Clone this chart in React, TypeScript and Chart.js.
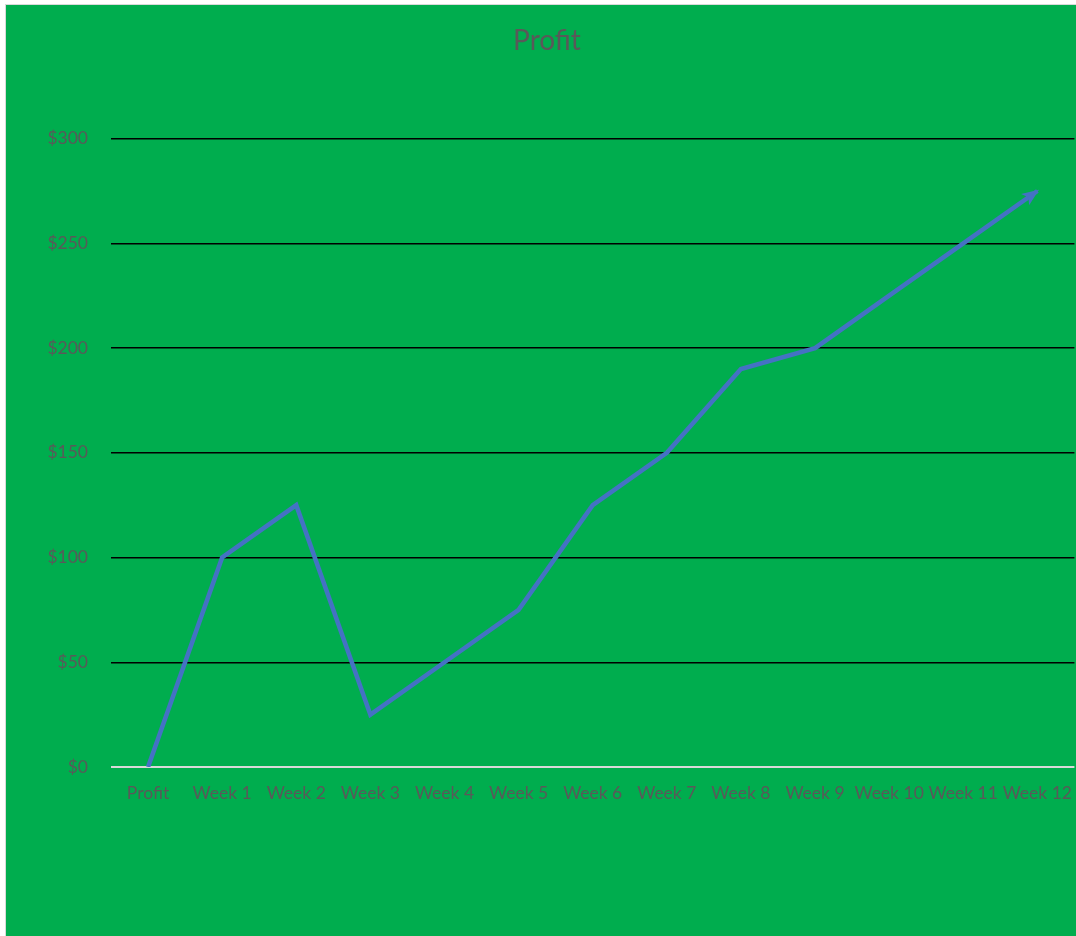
import React, { useEffect, useRef } from "react";
import { Chart, registerables } from "chart.js";

Chart.register(...registerables);

const categories = ["Profit", "Week 1", "Week 2", "Week 3", "Week 4", "Week 5", "Week 6", "Week 7", "Week 8", "Week 9", "Week 10", "Week 11", "Week 12"];
const profitValues = [0, 100, 125, 25, 50, 75, 125, 150, 190, 200, 225, 250, 275];
const yTicks = [0, 50, 100, 150, 200, 250, 300];
const chartTitle = "Profit";

const LINE_COLOR = "#4472C4";
const TEXT_COLOR = "#595959";
const FONT = "Lato, 'Open Sans', sans-serif";

const arrowPlugin = {
  id: "arrowEnd",
  afterDatasetsDraw(chart: any) {
    const meta = chart.getDatasetMeta(0);
    const pts = meta.data;
    if (!pts || pts.length < 2) return;
    const a = pts[pts.length - 2];
    const b = pts[pts.length - 1];
    const ang = Math.atan2(b.y - a.y, b.x - a.x);
    const ctx = chart.ctx;
    const len = 15;
    const half = 7;
    ctx.save();
    ctx.translate(b.x, b.y);
    ctx.rotate(ang);
    ctx.beginPath();
    ctx.moveTo(2, 0);
    ctx.lineTo(-len, -half);
    ctx.lineTo(-len + 4, 0);
    ctx.lineTo(-len, half);
    ctx.closePath();
    ctx.fillStyle = LINE_COLOR;
    ctx.fill();
    ctx.restore();
  },
};

export default function App() {
  const ref = useRef<HTMLCanvasElement | null>(null);

  useEffect(() => {
    if (!ref.current) return;
    const chart = new Chart(ref.current, {
      type: "line",
      data: {
        labels: categories,
        datasets: [
          {
            label: "Profit",
            data: profitValues,
            borderColor: LINE_COLOR,
            borderWidth: 4.5,
            pointRadius: 0,
            tension: 0,
            fill: false,
            borderCapStyle: "butt",
            borderJoinStyle: "miter",
          },
        ],
      },
      options: {
        responsive: false,
        animation: false,
        layout: { padding: { left: 0, right: 0, top: 0, bottom: 0 } },
        plugins: {
          legend: { display: false },
          tooltip: { enabled: false },
          title: {
            display: true,
            text: chartTitle,
            color: TEXT_COLOR,
            font: { family: FONT, size: 28, weight: "normal" },
            padding: { top: 19, bottom: 81 },
          },
        },
        scales: {
          x: {
            type: "category",
            offset: true,
            grid: { display: false, drawTicks: false },
            border: { display: false },
            ticks: {
              color: TEXT_COLOR,
              font: { family: FONT, size: 17.5 },
              autoSkip: false,
              maxRotation: 0,
              padding: 16,
            },
            afterFit(scale: any) {
              scale.height = 169;
            },
          },
          y: {
            min: 0,
            max: 300,
            afterBuildTicks(scale: any) {
              scale.ticks = yTicks.map((v) => ({ value: v }));
            },
            grid: {
              drawTicks: false,
              color: (ctx: any) => (ctx.tick && ctx.tick.value === 0 ? "#D9D9D9" : "#000000"),
              lineWidth: (ctx: any) => (ctx.tick && ctx.tick.value === 0 ? 2 : 1.5),
            },
            border: { display: false },
            ticks: {
              color: TEXT_COLOR,
              font: { family: FONT, size: 17.5 },
              padding: 23,
              callback: (v: any) => "$" + v,
            },
            afterFit(scale: any) {
              scale.width = 105;
            },
          },
        },
      },
      plugins: [arrowPlugin],
    });
    return () => chart.destroy();
  }, []);

  return (
    <div style={{ position: "fixed", left: 0, top: 0, width: "100vw", height: "100vh", overflow: "hidden", background: "#ffffff" }}>
      <div
        style={{
          position: "absolute",
          left: 5,
          top: 4,
          width: 1100,
          height: 940,
          border: "1px solid #D9D9D9",
          background: "#00AD4E",
        }}
      >
        <canvas ref={ref} width={1082} height={931} style={{ display: "block", width: 1082, height: 931 }} />
      </div>
    </div>
  );
}
